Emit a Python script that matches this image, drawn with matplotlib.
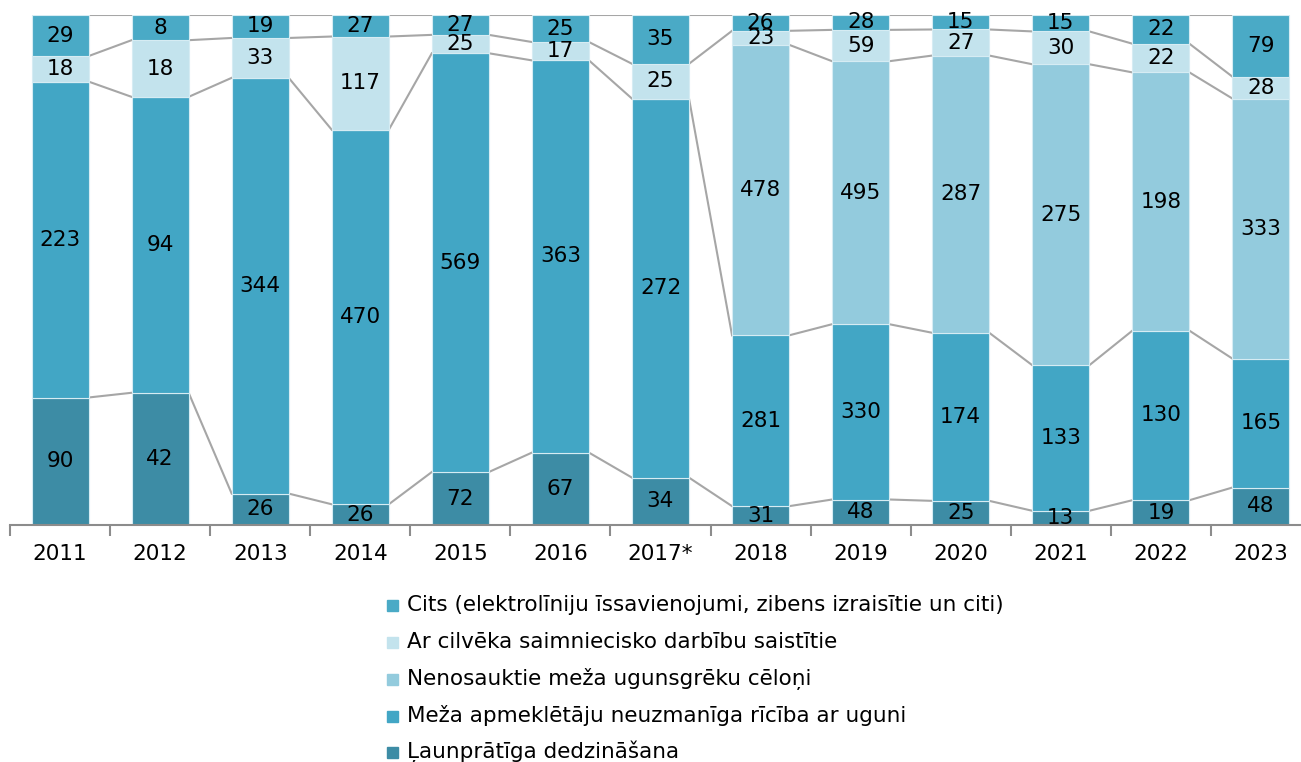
import numpy as np
import matplotlib.pyplot as plt
from matplotlib.patches import Rectangle

years = ['2011', '2012', '2013', '2014', '2015', '2016', '2017*',
         '2018', '2019', '2020', '2021', '2022', '2023']

# series from bottom to top
launpratiga = [90, 42, 26, 26, 72, 67, 34, 31, 48, 25, 13, 19, 48]
apmekletaji = [223, 94, 344, 470, 569, 363, 272, 281, 330, 174, 133, 130, 165]
nenosauktie = [0, 0, 0, 0, 0, 0, 0, 478, 495, 287, 275, 198, 333]
saimnieciska = [18, 18, 33, 117, 25, 17, 25, 23, 59, 27, 30, 22, 28]
cits = [29, 8, 19, 27, 27, 25, 35, 26, 28, 15, 15, 22, 79]

series = [launpratiga, apmekletaji, nenosauktie, saimnieciska, cits]
colors = ['#3d8ca5', '#42a6c5', '#93cbdd', '#c3e3ed', '#4aaac6']
names = ['Ļaunprātīga dedzināšana',
         'Meža apmeklētāju neuzmanīga rīcība ar uguni',
         'Nenosauktie meža ugunsgrēku cēloņi',
         'Ar cilvēka saimniecisko darbību saistītie',
         'Cits (elektrolīniju īssavienojumi, zibens izraisītie un citi)']

data = np.array(series, dtype=float)
share = data / data.sum(axis=0) * 100
x = np.arange(len(years))
width = 0.57

fig = plt.figure(figsize=(13.01, 7.62), dpi=100)
W, H = 1301, 762
ax = fig.add_axes([10 / W, (H - 525) / H, 1301 / W, 510 / H])

bottom = np.zeros(len(years))
for vals, sh, col in zip(data, share, colors):
    ax.bar(x, sh, width, bottom=bottom, color=col, edgecolor='#d6ecf3', linewidth=0.8, zorder=2)
    for i in range(len(years)):
        if vals[i] > 0:
            ax.text(x[i], bottom[i] + sh[i] / 2, str(int(vals[i])), ha='center', va='center',
                    fontsize=15.5, color='black', zorder=4)
    top = bottom + sh
    # series lines between neighbouring bars
    for i in range(len(years) - 1):
        if vals[i] > 0 and vals[i + 1] > 0:
            ax.plot([x[i] + width / 2, x[i + 1] - width / 2], [top[i], top[i + 1]],
                    color='#a6a6a6', lw=1.5, zorder=1)
    bottom = top

ax.set_xlim(-0.5, len(years) - 0.5)
ax.set_ylim(0, 100)
ax.set_yticks([])
for s in ['top', 'right', 'left']:
    ax.spines[s].set_visible(False)
ax.spines['bottom'].set_color('#8c8c8c')
ax.spines['bottom'].set_linewidth(1.5)
ax.set_xticks(x)
ax.set_xticklabels(years, fontsize=15.5)
ax.tick_params(axis='x', which='major', length=0, pad=14)
ax.set_xticks(np.arange(-0.5, len(years), 1), minor=True)
ax.tick_params(axis='x', which='minor', length=8, width=1.5, color='#8c8c8c')

# legend, top entry first
rows_y = [605, 642, 679, 716, 752]
for yy, name, col in zip(rows_y, names[::-1], colors[::-1]):
    fig.add_artist(Rectangle((387 / W, (H - yy - 6) / H), 11 / W, 11 / H,
                             transform=fig.transFigure, color=col))
    fig.text(407 / W, (H - yy) / H, name, fontsize=15.5, va='center', ha='left')

fig.savefig('out.png', dpi=100)
